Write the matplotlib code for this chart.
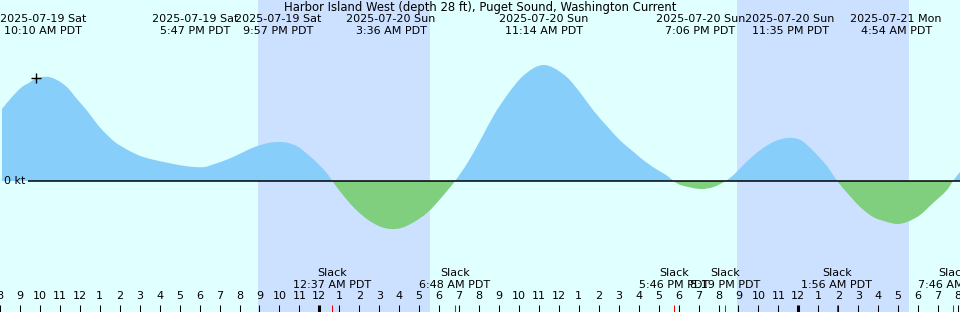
import matplotlib
matplotlib.use("Agg")
import matplotlib.pyplot as plt
import matplotlib.transforms as mtransforms
from matplotlib.path import Path
from matplotlib.patches import PathPatch, Rectangle
import numpy as np
import pandas as pd

# ---------------- data ----------------
title = "Harbor Island West (depth 28 ft), Puget Sound, Washington Current"
ref = pd.Timestamp("2025-07-20 00:00")

# current speed (kt), time in hours from 2025-07-20 00:00
curve_hours = [-15.9, -15.4, -14.9, -14.55, -14.25, -13.9, -13.55, -13.25, -12.9, -12.55,
               -12.25, -11.9, -11.55, -11.25, -10.9, -10.55, -10.25, -9.9, -9.55, -9.25,
               -8.9, -8.25, -7.55, -6.9, -6.25, -5.75, -5.25, -4.55, -3.9, -3.25,
               -2.55, -2.05, -1.55, -1.05, -0.55, -0.05, 0.45, 0.65,
               1.1, 1.75, 2.45, 3.1, 3.6, 4.1, 4.75,
               5.45, 6.1, 6.8, 7.45, 8.1, 8.75, 9.45, 10.1, 10.75, 11.25,
               11.75, 12.45, 13.1, 13.75, 14.45, 15.1, 15.75, 16.1, 16.75, 17.45,
               17.75, 18.1, 19.1, 19.75, 20.35, 20.75, 21.45, 22.1, 22.75, 23.45,
               24.1, 24.75, 25.45, 25.95, 26.45, 27.1, 27.75, 28.45, 28.95, 29.45,
               30.1, 30.75, 31.45, 31.75, 32.1]
curve_kt = [0.72, 0.84, 0.94, 0.98, 1.02, 1.04, 1.04, 1.02, 0.98, 0.92,
            0.845, 0.765, 0.68, 0.60, 0.515, 0.445, 0.39, 0.345, 0.305, 0.275,
            0.245, 0.21, 0.18, 0.155, 0.14, 0.14, 0.17, 0.22, 0.28, 0.34,
            0.38, 0.39, 0.38, 0.34, 0.26, 0.17, 0.06, 0.0,
            -0.12, -0.27, -0.39, -0.46, -0.48, -0.47, -0.41,
            -0.31, -0.17, 0.0, 0.19, 0.42, 0.66, 0.87, 1.03, 1.13, 1.16,
            1.13, 1.03, 0.875, 0.70, 0.54, 0.40, 0.29, 0.23, 0.135, 0.05,
            0.0, -0.04, -0.08, -0.06, 0.0, 0.06, 0.20, 0.31, 0.39, 0.43,
            0.41, 0.30, 0.145, 0.0, -0.12, -0.26, -0.36, -0.41, -0.43, -0.41,
            -0.34, -0.22, -0.09, 0.0, 0.09]

event_stamps = ["2025-07-19 10:10", "2025-07-19 17:47", "2025-07-19 21:57",
                "2025-07-20 03:36", "2025-07-20 11:14", "2025-07-20 19:06",
                "2025-07-20 23:35", "2025-07-21 04:54"]
slack_stamps = ["2025-07-20 00:37", "2025-07-20 06:48", "2025-07-20 17:46",
                "2025-07-20 20:19", "2025-07-21 01:56", "2025-07-21 07:46"]
night_starts = ["2025-07-19 20:57", "2025-07-20 20:57"]
night_ends = ["2025-07-20 05:33", "2025-07-21 05:33"]
now_stamp = "2025-07-19 09:48"
now_kt = 1.03

x_min, x_max = -15.9, 32.1
tick_hours = list(range(-16, 33))


def hrs(s):
    return (pd.Timestamp(s) - ref) / pd.Timedelta(hours=1)


def fmt_time(ts):
    h = ts.hour % 12 or 12
    return f"{h}:{ts.minute:02d} {'AM' if ts.hour < 12 else 'PM'} PDT"


def smooth_path(x, y):
    """Smooth (cubic Hermite / Bezier) drawing path through the data points,
    closed back along the zero line."""
    n = len(x)
    m = np.empty(n)
    m[1:-1] = (y[2:] - y[:-2]) / (x[2:] - x[:-2])
    m[0] = (y[1] - y[0]) / (x[1] - x[0])
    m[-1] = (y[-1] - y[-2]) / (x[-1] - x[-2])
    verts = [(x[0], 0.0), (x[0], y[0])]
    codes = [Path.MOVETO, Path.LINETO]
    for i in range(n - 1):
        dx = x[i + 1] - x[i]
        verts += [(x[i] + dx / 3, y[i] + m[i] * dx / 3),
                  (x[i + 1] - dx / 3, y[i + 1] - m[i + 1] * dx / 3),
                  (x[i + 1], y[i + 1])]
        codes += [Path.CURVE4] * 3
    verts += [(x[-1], 0.0), (x[0], 0.0)]
    codes += [Path.LINETO, Path.CLOSEPOLY]
    return Path(verts, codes)


# ---------------- figure ----------------
W, H = 960, 312
plt.rcParams["font.family"] = ["DejaVu Sans"]
fig = plt.figure(figsize=(W / 100, H / 100), dpi=100)
fig.patch.set_facecolor("#e0ffff")
ax = fig.add_axes([0, 0, 1, 1])
ax.set_facecolor("#e0ffff")
for s in ax.spines.values():
    s.set_visible(False)

ax.set_xlim(x_min, x_max)
ax.set_ylim(-1.31, 1.81)

fs = 8.0

for a, b in zip(night_starts, night_ends):
    ax.axvspan(hrs(a), hrs(b), color="#cce0ff", lw=0, zorder=0)

t = np.array(curve_hours, dtype=float)
v = np.array(curve_kt, dtype=float)
path = smooth_path(t, v)
up_clip = Rectangle((x_min - 1, 0), x_max - x_min + 2, 5, transform=ax.transData)
dn_clip = Rectangle((x_min - 1, -5), x_max - x_min + 2, 5, transform=ax.transData)
flood = PathPatch(path, facecolor="#87cefa", edgecolor="none", zorder=2)
ebb = PathPatch(path, facecolor="#7fcf7f", edgecolor="none", zorder=2)
ax.add_patch(flood)
ax.add_patch(ebb)
flood.set_clip_path(up_clip)
ebb.set_clip_path(dn_clip)

line_start = x_min + 26 / 20.0
ax.hlines(0, line_start, x_max, color="black", lw=1.1, zorder=3)

ax.plot([hrs(now_stamp)], [now_kt], marker="+", ms=7, mew=1, color="black", zorder=4)

fy = lambda py: 1 - py / H
bt = mtransforms.blended_transform_factory(ax.transData, fig.transFigure)
ax.text(x_min + 2 / 20.0, 0, "0 kt", ha="left", va="center", fontsize=fs, zorder=4)

fig.text(0.5, fy(7), title, ha="center", va="center", fontsize=8.35)

for s in event_stamps:
    ts = pd.Timestamp(s)
    x = hrs(s)
    ax.text(x, fy(19), ts.strftime("%Y-%m-%d %a"), transform=bt, ha="center", va="center", fontsize=fs)
    ax.text(x, fy(31), fmt_time(ts), transform=bt, ha="center", va="center", fontsize=fs)

for s in slack_stamps:
    ts = pd.Timestamp(s)
    x = hrs(s)
    ax.text(x, fy(273), "Slack", transform=bt, ha="center", va="center", fontsize=fs)
    ax.text(x, fy(285), fmt_time(ts), transform=bt, ha="center", va="center", fontsize=fs)

# hour ticks
ax.set_xticks(tick_hours)
ax.set_xticklabels([str((h % 24) % 12 or 12) for h in tick_hours])
ax.set_xticks([hrs(s) for s in slack_stamps], minor=True)
ax.tick_params(axis="x", which="major", direction="in", length=5.0, width=0.75,
               color="black", pad=-15.0, labelsize=fs)
ax.tick_params(axis="x", which="minor", direction="in", length=5.0, width=0.75,
               color="red")
for h, tk in zip(tick_hours, ax.xaxis.get_major_ticks()):
    if h % 24 == 0:
        tk.tick1line.set_markeredgewidth(2.2)
ax.set_yticks([])

fig.savefig("out.png", dpi=100, facecolor=fig.get_facecolor())
